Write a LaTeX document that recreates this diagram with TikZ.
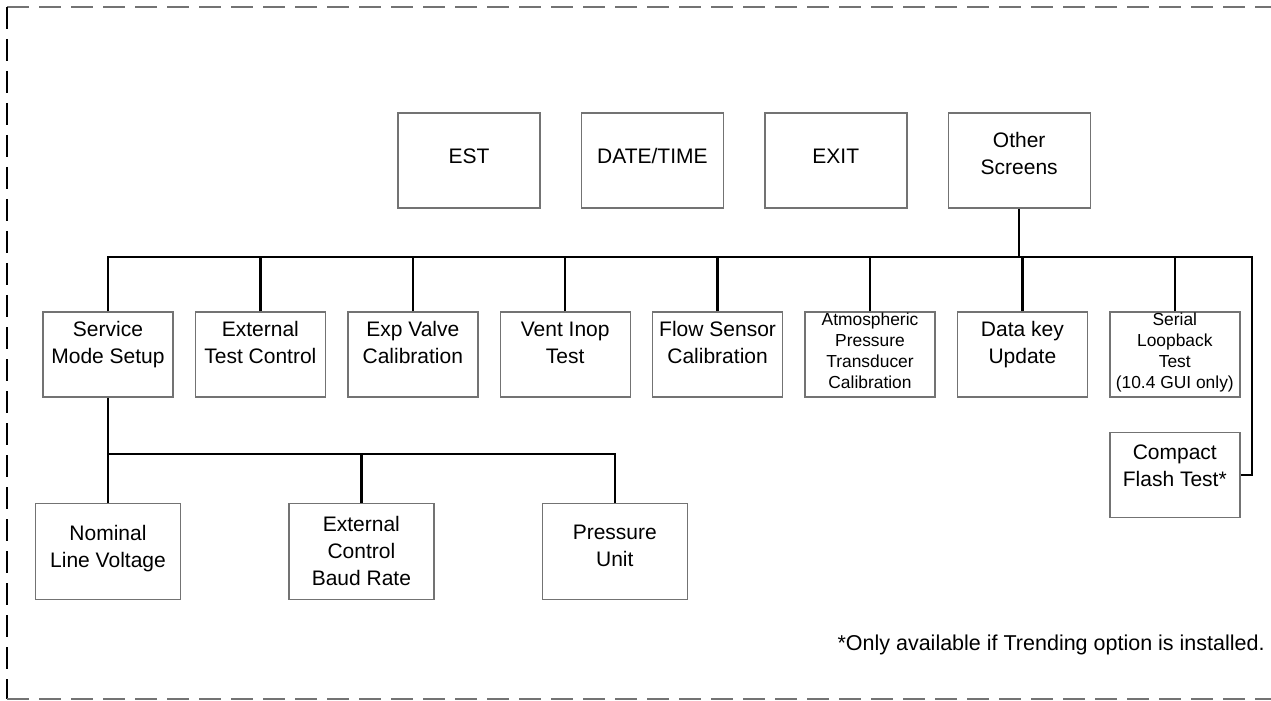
\documentclass[tikz,border=0pt]{standalone}
\usepackage{fontspec}
\setmainfont{Liberation Sans}
\usetikzlibrary{positioning}

\begin{document}
\begin{tikzpicture}[x=0.5pt, y=-0.5pt,
  box/.style={draw=black!55, line width=0.7pt, align=center, inner sep=0pt,
              font=\fontsize{10.5}{13.5}\selectfont},
  topbox/.style={box, minimum width=71pt, minimum height=47.5pt, text depth=4.5pt},
  midbox/.style={box, minimum width=65pt, minimum height=42.5pt, text depth=12pt},
  smallbox/.style={midbox, text depth=4pt, font=\fontsize{8.7}{10.5}\selectfont},
  subbox/.style={box, minimum width=72.5pt, minimum height=48pt},
  link/.style={line width=1.25pt},
  border/.style={line width=0.75pt, dash pattern=on 11pt off 5pt}]

  \useasboundingbox (0,0) rectangle (1271,701);

  % top row of screens
  \node[topbox] (est) at (469,160.5) {EST};
  \node[topbox, right=20pt of est] (dt) {DATE/TIME};
  \node[topbox, right=20pt of dt] (exit) {EXIT};
  \node[topbox, right=20pt of exit, text depth=7pt] (other) {Other\\Screens};

  % other screens (single row, left to right)
  \node[midbox] (svc) at (108,354.5) {Service\\Mode Setup};
  \node[midbox, right=10.5pt of svc] (etc) {External\\Test Control};
  \node[midbox, right=10.5pt of etc] (evc) {Exp Valve\\Calibration};
  \node[midbox, right=10.5pt of evc] (vit) {Vent Inop\\Test};
  \node[midbox, right=10.5pt of vit] (fsc) {Flow Sensor\\Calibration};
  \node[smallbox, right=10.5pt of fsc] (aptc) {Atmospheric\\Pressure\\Transducer\\Calibration};
  \node[midbox, right=10.5pt of aptc] (dku) {Data key\\Update};
  \node[smallbox, right=10.5pt of dku] (slt) {Serial\\Loopback\\Test\\(10.4 GUI only)};
  \node[midbox, below=17pt of slt, text depth=9pt] (cf) {Compact\\Flash Test*};

  % service mode setup entries
  \node[subbox, below=52.5pt of svc, text depth=5.5pt] (nlv) {Nominal\\Line Voltage};
  \node[subbox, right=53.5pt of nlv] (ecbr) {External\\Control\\Baud Rate};
  \node[subbox, right=53.5pt of ecbr, text depth=5.5pt] (pu) {Pressure\\Unit};

  \node[font=\fontsize{10.75}{13}\selectfont, anchor=base east, inner sep=0pt] (note) at (1265,650)
    {*Only available if Trending option is installed.};

  % connectors
  \coordinate (busr) at (1252,257);
  \coordinate (bus2) at (0,454);
  \draw[link] (other.south) -- (other.south |- busr);
  \draw[link] (svc.north) |- (busr) |- (cf.east);
  \foreach \n in {etc,evc,vit,fsc,aptc,dku,slt}
    \draw[link] (\n.north) -- (\n.north |- busr);
  \draw[link] (svc.south) -- (nlv.north);
  \draw[link] (svc.south |- bus2) -| (pu.north);
  \draw[link] (ecbr.north) -- (ecbr.north |- bus2);

  % dashed frame
  \draw[border, black!55] (7,7) -- (1271,7);
  \draw[border, black] (7,7) -- (7,699);
  \draw[border, black!55] (7,699) -- (1271,699);
\end{tikzpicture}
\end{document}
